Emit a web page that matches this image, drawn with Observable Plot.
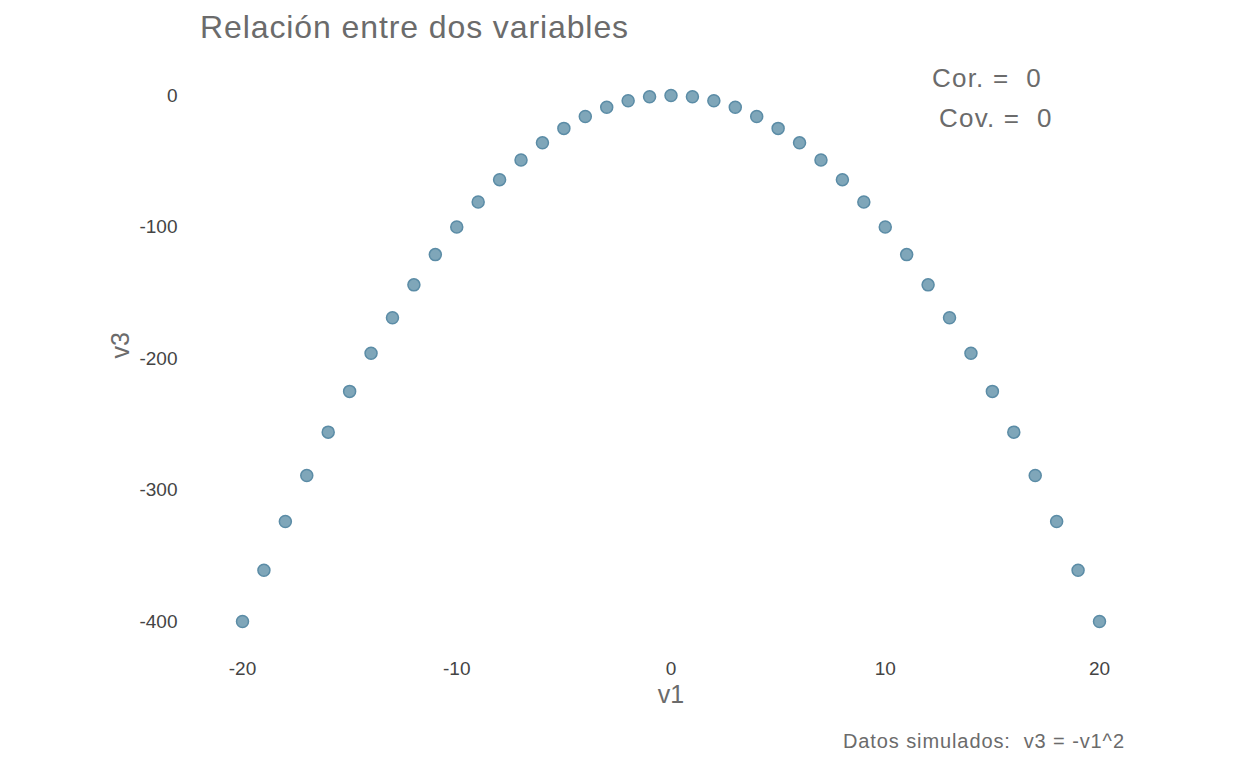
<!DOCTYPE html>
<html>
<head>
<meta charset="UTF-8">
<script src="https://cdn.jsdelivr.net/npm/d3@7"></script>
<script src="https://cdn.jsdelivr.net/npm/@observablehq/plot@0.6"></script>
<style>
body { margin: 0; background: #fff; font-family: "Liberation Sans", Arial, sans-serif; }
#wrap { position: relative; width: 1248px; height: 768px; }
.t { position: absolute; color: #6b6b6b; white-space: nowrap; }
</style>
</head>
<body>
<div id="wrap">
  <div class="t" style="left:200px;top:9px;font-size:32px;letter-spacing:0.9px;">Relación entre dos variables</div>
  <div class="t" style="left:932px;top:63px;font-size:26px;letter-spacing:1.2px;">Cor. =&nbsp; 0</div>
  <div class="t" style="left:939px;top:103px;font-size:26px;letter-spacing:1.2px;">Cov. =&nbsp; 0</div>
  <div class="t" style="left:843px;top:730px;font-size:20px;letter-spacing:0.9px;">Datos simulados:&nbsp; v3 = -v1^2</div>
  <div id="graph"></div>
</div>
<script>
const v1 = [-20,-19,-18,-17,-16,-15,-14,-13,-12,-11,-10,-9,-8,-7,-6,-5,-4,-3,-2,-1,0,
            1,2,3,4,5,6,7,8,9,10,11,12,13,14,15,16,17,18,19,20];
const v3 = [-400,-361,-324,-289,-256,-225,-196,-169,-144,-121,-100,-81,-64,-49,-36,-25,-16,-9,-4,-1,0,
            -1,-4,-9,-16,-25,-36,-49,-64,-81,-100,-121,-144,-169,-196,-225,-256,-289,-324,-361,-400];
const xTicks = [-20, -10, 0, 10, 20];
const yTicks = [0, -100, -200, -300, -400];

const data = v1.map((d, i) => ({v1: d, v3: v3[i]}));

const plot = Plot.plot({
  width: 1248,
  height: 768,
  marginLeft: 242,
  marginRight: 149,
  marginTop: 95,
  marginBottom: 147,
  style: { fontFamily: "Liberation Sans, Arial, sans-serif", fontSize: "19px", color: "#444" },
  x: { domain: [-20, 20], ticks: xTicks, tickFormat: d => String(d), tickSize: 0, tickPadding: 40, label: null },
  y: { domain: [-400, 0], ticks: yTicks, tickFormat: d => String(d), tickSize: 0, tickPadding: 65, label: null },
  marks: [
    Plot.dot(data, { x: "v1", y: "v3", r: 6, fill: "#7fa6b9", stroke: "#5b8ca6", strokeWidth: 1.5 }),
    Plot.text(["v1"], { frameAnchor: "bottom", dy: 81, fontSize: 25, fill: "#6b6b6b" }),
    Plot.text(["v3"], { frameAnchor: "left", dx: -122, rotate: -90, fontSize: 25, fill: "#6b6b6b" })
  ]
});
document.querySelector("#graph").append(plot);
</script>
</body>
</html>
